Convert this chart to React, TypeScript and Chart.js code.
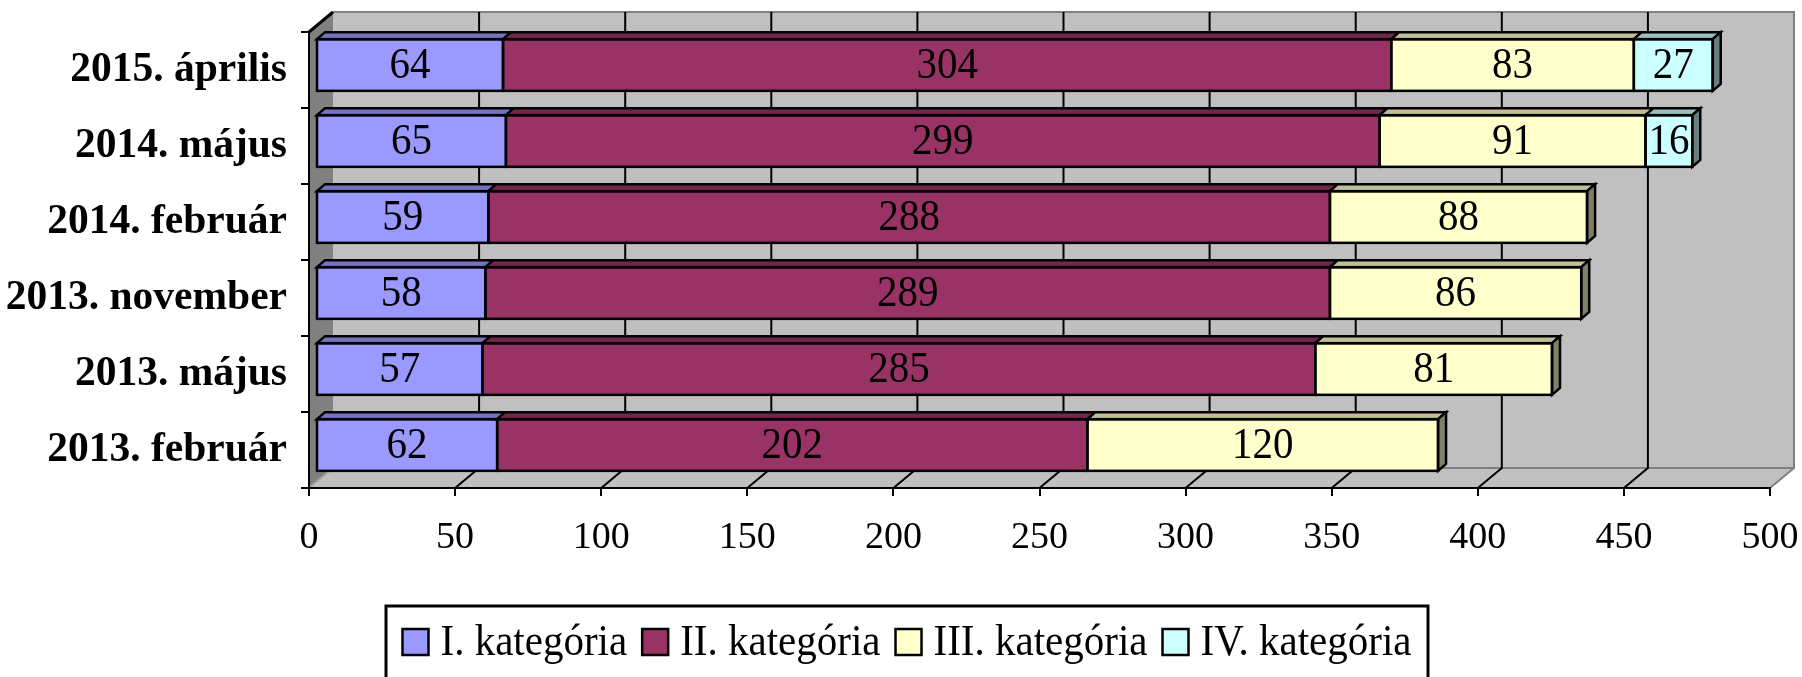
import React, { useEffect, useRef } from 'react';
import { Chart, registerables } from 'chart.js';

Chart.register(...registerables);

// ---- data ----
const categories = ['2013. február', '2013. május', '2013. november', '2014. február', '2014. május', '2015. április'];
const seriesNames = ['I. kategória', 'II. kategória', 'III. kategória', 'IV. kategória'];
const category1 = [62, 57, 58, 59, 65, 64];
const category2 = [202, 285, 289, 288, 299, 304];
const category3 = [120, 81, 86, 88, 91, 83];
const category4: (number | null)[] = [null, null, null, null, 16, 27];
const xMin = 0;
const xMax = 500;
const xStep = 50;

// ---- style ----
const colors = ['#9999FF', '#993366', '#FFFFCC', '#CCFFFF'];
const FONT = "'Liberation Serif', 'Times New Roman', serif";
const WALL = { x: 24, y: 20 };
const BAR_SHIFT = { x: 7, y: 5 };
const BAR_DEPTH = { x: 8, y: 7 };
const TEXT_STRETCH = 1.1;

function shade(hex: string, f: number) {
  const n = parseInt(hex.slice(1), 16);
  const r = Math.round(((n >> 16) & 255) * f);
  const g = Math.round(((n >> 8) & 255) * f);
  const b = Math.round((n & 255) * f);
  return `rgb(${r},${g},${b})`;
}

function stretchedText(ctx: CanvasRenderingContext2D, text: string, x: number, y: number) {
  ctx.save();
  ctx.translate(x, y);
  ctx.scale(1, TEXT_STRETCH);
  ctx.fillText(text, 0, 0);
  ctx.restore();
}

const excel3d = {
  id: 'excel3d',
  beforeDraw(chart: any) {
    const { ctx, chartArea: a, scales } = chart;
    const xs = scales.x;
    const L = a.left, R = a.right, T = a.top, B = a.bottom;
    const dx = WALL.x, dy = WALL.y;
    ctx.save();
    ctx.fillStyle = '#C0C0C0';
    ctx.fillRect(L + dx, T - dy, R - L, B - T);
    ctx.beginPath();
    ctx.moveTo(L, B); ctx.lineTo(L + dx, B - dy); ctx.lineTo(R + dx, B - dy); ctx.lineTo(R, B);
    ctx.closePath(); ctx.fill();
    ctx.fillStyle = '#808080';
    ctx.beginPath();
    ctx.moveTo(L, T); ctx.lineTo(L + dx, T - dy); ctx.lineTo(L + dx, B - dy); ctx.lineTo(L, B);
    ctx.closePath(); ctx.fill();
    ctx.strokeStyle = '#808080';
    ctx.lineWidth = 2;
    ctx.beginPath();
    ctx.moveTo(L + dx, T - dy); ctx.lineTo(R + dx, T - dy); ctx.lineTo(R + dx, B - dy); ctx.lineTo(R, B);
    ctx.stroke();
    ctx.beginPath();
    ctx.moveTo(L + dx, B - dy); ctx.lineTo(R + dx, B - dy);
    ctx.stroke();
    ctx.strokeStyle = '#A8A8A8';
    ctx.beginPath();
    ctx.moveTo(L, B); ctx.lineTo(L + dx, B - dy);
    ctx.stroke();
    ctx.strokeStyle = '#000';
    ctx.lineWidth = 2;
    xs.ticks.forEach((t: any) => {
      if (t.value <= xs.min || t.value >= xs.max) return;
      const px = xs.getPixelForValue(t.value);
      ctx.beginPath();
      ctx.moveTo(px, B); ctx.lineTo(px + dx, B - dy); ctx.lineTo(px + dx, T - dy);
      ctx.stroke();
    });
    ctx.lineWidth = 3;
    ctx.beginPath();
    ctx.moveTo(L, T); ctx.lineTo(L + dx, T - dy);
    ctx.stroke();
    ctx.restore();
  },
  beforeDatasetsDraw(chart: any) {
    chart.ctx.save();
    chart.ctx.translate(BAR_SHIFT.x, -BAR_SHIFT.y);
  },
  afterDatasetsDraw(chart: any) {
    const { ctx } = chart;
    const bx = BAR_DEPTH.x, by = BAR_DEPTH.y;
    const n = chart.data.labels.length;
    const lastIdx: number[] = [];
    for (let j = 0; j < n; j++) {
      lastIdx[j] = -1;
      chart.data.datasets.forEach((ds: any, i: number) => {
        if (ds.data[j] != null) lastIdx[j] = i;
      });
    }
    ctx.lineWidth = 2.5;
    ctx.strokeStyle = '#000';
    ctx.lineJoin = 'miter';
    const rects: any[] = [];
    chart.data.datasets.forEach((ds: any, i: number) => {
      const meta = chart.getDatasetMeta(i);
      meta.data.forEach((el: any, j: number) => {
        if (ds.data[j] == null) return;
        const p = el.getProps(['x', 'y', 'base', 'height'], true);
        const left = Math.min(p.base, p.x), right = Math.max(p.base, p.x);
        const top = p.y - p.height / 2, bottom = p.y + p.height / 2;
        rects.push({ left, right, top, bottom, value: ds.data[j] });
        ctx.fillStyle = shade(ds.backgroundColor, 0.75);
        ctx.beginPath();
        ctx.moveTo(left, top); ctx.lineTo(right, top); ctx.lineTo(right + bx, top - by); ctx.lineTo(left + bx, top - by);
        ctx.closePath(); ctx.fill(); ctx.stroke();
        if (lastIdx[j] === i) {
          ctx.fillStyle = shade(ds.backgroundColor, 0.5);
          ctx.beginPath();
          ctx.moveTo(right, top); ctx.lineTo(right + bx, top - by); ctx.lineTo(right + bx, bottom - by); ctx.lineTo(right, bottom);
          ctx.closePath(); ctx.fill(); ctx.stroke();
        }
        ctx.strokeRect(left, top, right - left, bottom - top);
      });
    });
    ctx.fillStyle = '#000';
    ctx.font = `41px ${FONT}`;
    ctx.textAlign = 'center';
    ctx.textBaseline = 'middle';
    rects.forEach((r) => {
      stretchedText(ctx, String(r.value), (r.left + r.right) / 2, (r.top + r.bottom) / 2 + 1);
    });
    ctx.restore();
  },
  afterDraw(chart: any) {
    const { ctx } = chart;
    ctx.save();
    ctx.font = `41px ${FONT}`;
    const box = 26, gap = 12, itemGap = 15;
    const widths = chart.data.datasets.map((ds: any) => box + gap + ctx.measureText(ds.label).width);
    const total = widths.reduce((s: number, w: number) => s + w, 0) + itemGap * (widths.length - 1);
    const boxL = 386, boxR = 1428, boxT = 606;
    ctx.strokeStyle = '#000';
    ctx.lineWidth = 3;
    ctx.strokeRect(boxL, boxT, boxR - boxL, 100);
    let x = (boxL + boxR) / 2 - total / 2;
    const cy = 642;
    chart.data.datasets.forEach((ds: any, i: number) => {
      ctx.fillStyle = ds.backgroundColor;
      ctx.fillRect(x, cy - box / 2, box, box);
      ctx.lineWidth = 2.5;
      ctx.strokeRect(x, cy - box / 2, box, box);
      ctx.fillStyle = '#000';
      ctx.textAlign = 'left';
      ctx.textBaseline = 'middle';
      stretchedText(ctx, ds.label, x + box + gap, cy + 1);
      x += widths[i] + itemGap;
    });
    ctx.restore();
  },
};

export default function App() {
  const ref = useRef<HTMLCanvasElement>(null);
  useEffect(() => {
    if (!ref.current) return;
    const series = [category1, category2, category3, category4];
    const chart = new Chart(ref.current, {
      type: 'bar',
      data: {
        labels: categories,
        datasets: series.map((d, i) => ({
          label: seriesNames[i],
          data: d as any,
          backgroundColor: colors[i],
          borderWidth: 0,
          barPercentage: 0.68,
          categoryPercentage: 1,
          clip: false as any,
        })),
      },
      options: {
        indexAxis: 'y',
        responsive: false,
        animation: false,
        layout: { padding: { left: 0, right: 32, top: 32, bottom: 0 } },
        plugins: { legend: { display: false }, tooltip: { enabled: false } },
        scales: {
          x: {
            type: 'linear',
            stacked: true,
            min: xMin,
            max: xMax,
            ticks: { stepSize: xStep, color: '#000', font: { family: FONT, size: 38 }, padding: 19 },
            grid: { drawOnChartArea: false, drawTicks: true, tickLength: 8, color: '#000', lineWidth: 2 },
            border: { display: true, color: '#000', width: 2 },
            afterFit: (s: any) => { s.height = 189; s.paddingLeft = 0; s.paddingRight = 0; },
          },
          y: {
            type: 'category',
            stacked: true,
            reverse: true,
            ticks: { color: '#000', font: { family: FONT, size: 41.5, weight: 'bold' }, padding: 14 },
            grid: { drawOnChartArea: false, drawTicks: true, tickLength: 8, color: '#000', lineWidth: 2, offset: true },
            border: { display: true, color: '#000', width: 2 },
            afterFit: (s: any) => { s.width = 309; s.paddingTop = 0; s.paddingBottom = 0; },
          },
        },
      },
      plugins: [excel3d],
    });
    return () => chart.destroy();
  }, []);
  return (
    <div style={{ position: 'absolute', left: 0, top: 0, width: 1802, height: 677, background: '#fff' }}>
      <canvas ref={ref} width={1802} height={677} />
    </div>
  );
}
